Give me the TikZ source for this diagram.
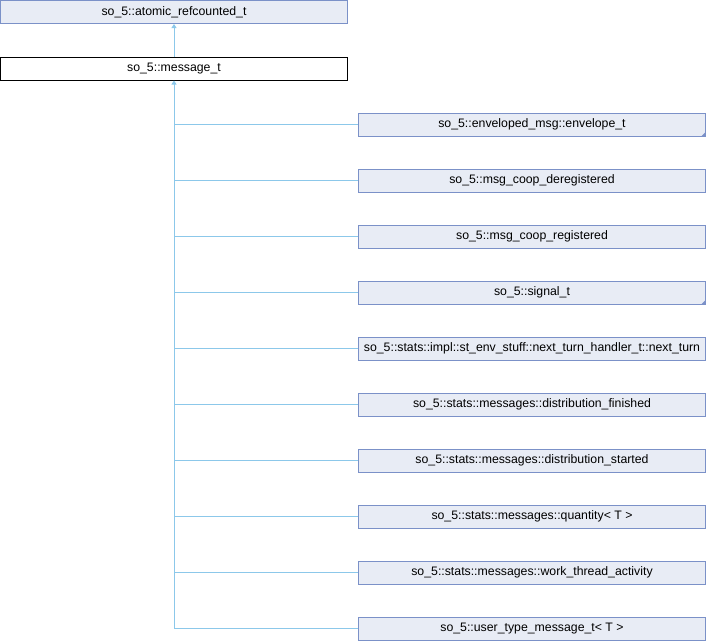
\documentclass[tikz,border=0pt]{standalone}
\usepackage{fontspec}
\setmainfont{Liberation Sans}
\usetikzlibrary{arrows.meta}

\definecolor{boxfill}{HTML}{E8ECF5}
\definecolor{boxline}{HTML}{7B91C8}
\definecolor{linkline}{HTML}{8CC8EA}

\begin{document}
\begin{tikzpicture}[x=1pt, y=-1pt,
  cls/.style={draw=boxline, fill=boxfill, line width=1pt, minimum width=347pt, minimum height=23pt, inner sep=0pt, font=\fontsize{12.3}{14}\selectfont},
  this/.style={cls, draw=black, fill=white},
  link/.style={draw=linkline, line width=1pt},
  inh/.style={link, {Triangle[width=5pt,length=4pt]}-}]

\useasboundingbox (0,0) rectangle (706,640);

\node[cls] (atomic) at (174,12){so\_5::atomic\_refcounted\_t};
\node[this] (msg) at (174,68.5){so\_5::message\_t};

\node[cls] (env) at (532,124.5){so\_5::enveloped\_msg::envelope\_t};
\node[cls] (dereg) at (532,180.5){so\_5::msg\_coop\_deregistered};
\node[cls] (reg) at (532,236.5){so\_5::msg\_coop\_registered};
\node[cls] (sig) at (532,292.5){so\_5::signal\_t};
\node[cls] (nextturn) at (532,348.5){so\_5::stats::impl::st\_env\_stuff::next\_turn\_handler\_t::next\_turn};
\node[cls] (finished) at (532,404.5){so\_5::stats::messages::distribution\_finished};
\node[cls] (started) at (532,460.5){so\_5::stats::messages::distribution\_started};
\node[cls] (qty) at (532,516.5){so\_5::stats::messages::quantity< T >};
\node[cls] (wta) at (532,572.5){so\_5::stats::messages::work\_thread\_activity};
\node[cls] (utm) at (532,628.5){so\_5::user\_type\_message\_t< T >};

% corner marks
\fill[boxline] (env.south east) -- ++(-5,0) -- ++(5,-5) -- cycle;
\fill[boxline] (sig.south east) -- ++(-5,0) -- ++(5,-5) -- cycle;

\draw[inh] (atomic.south) to (msg.north);

\coordinate (bottom) at (msg.south |- utm.west);
\draw[inh] (msg.south) to (bottom);

\draw[link] (msg.south |- env.west) to (env.west);
\draw[link] (msg.south |- dereg.west) to (dereg.west);
\draw[link] (msg.south |- reg.west) to (reg.west);
\draw[link] (msg.south |- sig.west) to (sig.west);
\draw[link] (msg.south |- nextturn.west) to (nextturn.west);
\draw[link] (msg.south |- finished.west) to (finished.west);
\draw[link] (msg.south |- started.west) to (started.west);
\draw[link] (msg.south |- qty.west) to (qty.west);
\draw[link] (msg.south |- wta.west) to (wta.west);
\draw[link] (bottom) to (utm.west);

\end{tikzpicture}
\end{document}
